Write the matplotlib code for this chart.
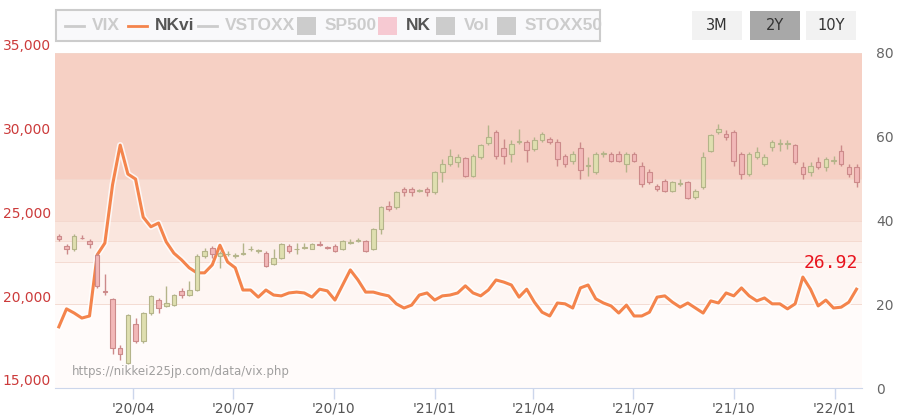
import matplotlib
matplotlib.use("Agg")
import matplotlib.pyplot as plt
import matplotlib.patheffects as pe
import numpy as np
import pandas as pd
from matplotlib.patches import Rectangle, FancyBboxPatch

nkvi = [14.6,18.9,17.9,16.7,17.2,31.8,34.6,48.5,58.0,51.1,49.9,40.8,38.5,39.4,34.9,32.2,30.6,28.7,27.5,27.5,29.4,34.1,30.1,28.7,
        23.4,23.4,21.7,23.4,22.2,22.0,22.7,22.9,22.7,21.7,23.6,23.2,21.0,24.6,28.2,25.8,22.9,22.9,22.4,22.0,20.1,19.1,19.8,22.2,22.7,21.0,22.0,
        22.2,22.7,24.4,22.7,22.0,23.4,25.8,25.3,24.6,21.7,23.6,20.5,18.1,17.2,20.3,20.1,19.1,23.9,24.6,21.3,20.3,19.6,17.9,19.8,17.2,17.2,
        18.1,21.7,22.0,20.5,19.3,20.3,19.1,17.9,20.8,20.3,22.7,22.0,23.9,22.0,20.8,21.5,20.1,20.1,18.9,20.1,26.5,23.6,19.6,21.0,19.1,19.3,20.5,23.6]
nk_open  = [23600,23000,22800,23500,23300,22460,20300,19830,16900,16020,18340,17330,19000,19800,19400,19500,20300,20100,20400,22400,22900,22400,22500,22400,22500,22800,22700,22600,21900,22300,23000,22800,22900,22850,23100,22950,23000,22800,23200,23300,23300,22800,24000,25400,25300,26400,26400,26300,26400,26200,27400,27900,28000,28250,27200,28300,29150,29800,28850,28500,29200,29200,28800,29300,29400,29200,28400,28100,28850,27800,27400,28500,28500,28500,27900,28500,27800,27400,26600,26900,26300,26700,26800,25900,26500,28700,29800,29700,29800,28500,27300,28300,27900,28900,29100,29100,29000,27700,27400,28000,27700,28100,28700,27700,27700]
nk_close = [23400,22800,23600,23450,23100,20610,20250,16900,16550,18880,17330,19000,20000,19300,19600,20100,20100,20400,22400,22700,22500,22600,22550,22420,22600,22820,22720,21800,22300,23100,22700,22850,22950,23100,23050,22900,22700,23300,23250,23320,22700,24000,25300,25200,26200,26200,26200,26320,26200,27400,27900,28400,28300,27180,28400,29000,29500,28400,28370,29100,29230,28750,29300,29700,29200,28200,27900,28500,27550,27820,28500,28550,28100,28100,28500,28100,26700,26800,26400,26300,26800,26750,25850,26300,28300,29600,30000,29500,28100,27300,28500,28600,28300,29200,29120,29120,28000,27300,27800,27700,28200,28120,27900,27300,26800]
nk_high  = [23700,23100,23700,23650,23400,22600,21300,19900,17100,18950,18700,19050,20100,19900,20600,20150,20500,20900,22500,22900,23000,22700,22700,22600,23200,23000,22850,22700,22800,23200,23100,23200,23200,23200,23300,23000,23100,23350,23400,23500,23350,24100,25400,25700,26300,26500,26500,26400,26500,27500,28200,28800,28500,28300,28500,29100,30200,29900,29400,29300,30000,29300,29500,29800,29500,29400,28500,28700,29200,28300,28600,28700,28600,28700,28600,28600,28000,27600,26700,27000,26900,27000,26900,26400,28600,29700,30300,29900,29900,28600,28600,28900,28500,29300,29400,29300,29100,28000,28000,28300,28300,28400,29000,27900,27900]
nk_low   = [23300,22500,22700,23400,22900,20500,20100,16550,16200,15950,17200,17200,18900,19000,19350,19400,19900,20000,20300,22300,22300,21700,22400,22300,22450,22700,22600,21750,21850,22250,22600,22500,22800,22800,23000,22800,22650,22750,23100,23250,22650,22750,23700,25100,25200,26000,26000,26200,26000,26100,26800,27800,27700,27100,27100,28200,29000,28200,27900,28000,29100,28000,28700,29200,29100,27800,27700,27900,27000,27200,27300,28300,28000,28000,27400,28000,26500,26700,26300,26200,26200,26600,25800,25800,26400,28600,29700,29300,27800,27000,27200,28200,27800,28700,28700,28800,27900,27000,27200,27600,27500,27900,27800,27100,26500]
x_ticks = ["'20/04", "'20/07", "'20/10", "'21/01", "'21/04", "'21/07", "'21/10", "'22/01"]
x_tick_dates = ["2020-04-01","2020-07-01","2020-10-01","2021-01-01","2021-04-01","2021-07-01","2021-10-01","2022-01-01"]
last_label = "26.92"

W, H = 898, 417
fig = plt.figure(figsize=(W/100, H/100), dpi=100)
L, R, B, T = 55, 862, 388, 45
ax = fig.add_axes([L/W, (H-B)/H, (R-L)/W, (B-T)/H])
ax2 = ax.twinx()
ax.set_zorder(2); ax2.set_zorder(1); ax.patch.set_visible(False)

start = pd.Timestamp("2020-01-24")
d_nk = [start + pd.Timedelta(days=7*i) for i in range(len(nk_open))]
d_vi = [start + pd.Timedelta(days=7*i) for i in range(len(nkvi))]
xn = matplotlib.dates.date2num(d_nk)
xv = matplotlib.dates.date2num(d_vi)
x0, x1 = xn[0]-3.5, xn[-1]+3.5 + 1.5
ax.set_xlim(x0, x1)
ax2.set_xlim(x0, x1)

ymax_r = 80 + (53-45)/((388-53)/80)
ax2.set_ylim(0, ymax_r)
ax.set_ylim(14522, 35000)

bands = [(50,80,"#f6d0c4"),(40,50,"#f8ddd3"),(35,40,"#fae6de"),(30,35,"#fcefea"),(20,30,"#fef6f3"),(0,20,"#fffbfa")]
for lo, hi, c in bands:
    ax2.axhspan(lo, hi, color=c, lw=0)
    ax2.axhline(hi, color="#f3d6cc", lw=0.6)

ax2.plot(xv, nkvi, color="#f4844c", lw=2.2, zorder=5,
         path_effects=[pe.Stroke(linewidth=4.5, foreground="white", alpha=0.8), pe.Normal()])

wdt = 4.2
for xi, o, c, h, l in zip(xn, nk_open, nk_close, nk_high, nk_low):
    up = c >= o
    fc = "#dfdfb0" if up else "#f2b8b8"
    ec = "#b4b48a" if up else "#cc8a8a"
    ax.vlines(xi, l, h, color=ec, lw=1, zorder=3)
    ax.add_patch(Rectangle((xi-wdt/2, min(o,c)), wdt, max(abs(c-o), 40), fc=fc, ec=ec, lw=0.8, zorder=4))

ax.set_yticks([15000,20000,25000,30000,35000])
ax.set_yticklabels(["15,000","20,000","25,000","30,000","35,000"])
ax.tick_params(axis="y", colors="#cc3b3b", labelsize=10, length=0, pad=3)
ax2.set_yticks([0,20,40,60,80])
ax2.tick_params(axis="y", colors="#666666", labelsize=10, length=0, pad=10)
xt = matplotlib.dates.date2num(pd.to_datetime(x_tick_dates))
ax.set_xticks(xt)
ax.set_xticklabels(x_ticks)
ax.tick_params(axis="x", colors="#ccd6eb", labelcolor="#555555", labelsize=10, length=8, width=1, pad=2)
for a in (ax, ax2):
    for s in a.spines.values():
        s.set_visible(False)
ax.spines["bottom"].set_visible(True)
ax.spines["bottom"].set_color("#ccd6eb")
ax2.set_ylim(0, ymax_r)

ax2.text(xv[-1]+1, nkvi[-1]+4, last_label, color="#e8141e", fontsize=13, family="DejaVu Sans Mono", ha="right", va="bottom", zorder=6)
fig.text(72/W, 1-372/H, "https://nikkei225jp.com/data/vix.php", color="#888888", fontsize=8.5, alpha=0.8, va="center")

# legend box
fig.patches.append(FancyBboxPatch((56/W, 1-41/H), 544/W, 31/H, boxstyle="square,pad=0", transform=fig.transFigure,
                                  fc="#f9f9fb", ec="#cccccc", lw=1.5))
items = [("line","VIX","#cccccc","#cccccc"),("line","NKvi","#f4844c","#555555"),("line","VSTOXX","#cccccc","#cccccc"),
         ("box","SP500","#cccccc","#cccccc"),("box","NK","#f6c9d2","#555555"),("box","Vol","#cccccc","#cccccc"),("box","STOXX50","#cccccc","#cccccc")]
xpos = [65,128,198,297,378,436,497]
for (kind, name, c, tc), xp in zip(items, xpos):
    yy = 1-26/H
    if kind == "line":
        fig.lines.append(plt.Line2D([xp/W,(xp+19)/W],[yy,yy], transform=fig.transFigure, color=c, lw=2))
        tx = xp + 27
    else:
        fig.patches.append(Rectangle((xp/W, yy-9/H), 19/W, 18/H, transform=fig.transFigure, fc=c, ec="none"))
        tx = xp + 28
    fig.text(tx/W, yy, name, color=tc, fontsize=12.5, fontweight="bold", family="Liberation Sans", va="center")

for lab, xb, active in [("3M",692,False),("2Y",750,True),("10Y",806,False)]:
    fig.patches.append(Rectangle((xb/W, 1-40/H), 50/W, 29/H, transform=fig.transFigure,
                                 fc="#a8a8a8" if active else "#f2f2f2", ec="none"))
    fig.text((xb+25)/W, 1-25/H, lab, ha="center", va="center", fontsize=10.5, color="#333333")

fig.savefig("out.png", dpi=100, facecolor="white")
